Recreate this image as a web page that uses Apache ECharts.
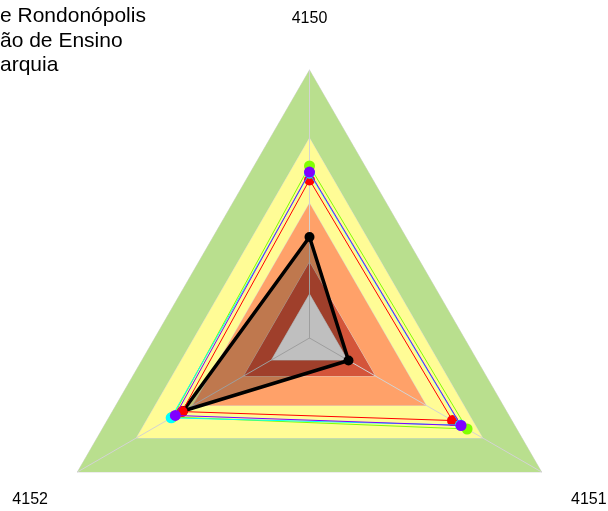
<!DOCTYPE html>
<html>
<head>
<meta charset="utf-8">
<script src="https://cdn.jsdelivr.net/npm/echarts@6/dist/echarts.min.js"></script>
<style>
html,body{margin:0;padding:0;background:#fff;}
#chart{width:608px;height:511px;}
</style>
</head>
<body>
<div id="chart"></div>
<script>
// Indicators in ECharts drawing order (top, bottom-left, bottom-right)
var categories = ['4150', '4152', '4151'];
var axisMax = 100;
var titleLines = ['e Rondonópolis', 'ão de Ensino', 'arquia'];

// Background bands (outer to inner)
var bandLevels = [100, 74.6, 50.3, 28.3, 16.4];
var bandColors = ['#B9DF8E', '#FFFC96', '#FFA169', '#D4553A', '#FFFFFF'];

// Series values, order = categories
var seriesNames = ['Instituição', 'Série 1', 'Série 2', 'Série 3', 'Série 4'];
var blackVals  = [37.7, 54.5, 16.8];
var redVals    = [59.0, 54.9, 61.6];
var greenVals  = [64.2, 59.0, 67.9];
var cyanVals   = [61.5, 59.6, 65.0];
var purpleVals = [61.9, 57.8, 65.3];

var seriesColors = ['#000000', '#FF0000', '#80FF00', '#00FFFF', '#8000FF'];
var seriesVals = [blackVals, redVals, greenVals, cyanVals, purpleVals];

var chart = echarts.init(document.getElementById('chart'), null, {renderer: 'canvas'});

var bandData = bandLevels.map(function (lv, i) {
  return {
    value: categories.map(function () { return lv; }),
    symbol: 'none',
    lineStyle: {color: '#D6D6D6', width: 1, opacity: 0.9},
    areaStyle: {color: bandColors[i], opacity: 1}
  };
});

var series = [{
  type: 'radar',
  z: 1,
  silent: true,
  data: bandData
}];

seriesVals.forEach(function (vals, i) {
  var isBlack = i === 0;
  series.push({
    type: 'radar',
    name: seriesNames[i],
    z: 3 + i,
    symbol: 'circle',
    symbolSize: isBlack ? 10 : 11,
    data: [{
      value: vals,
      itemStyle: {color: seriesColors[i]},
      lineStyle: {color: seriesColors[i], width: isBlack ? 3.5 : 1},
      areaStyle: isBlack ? {color: 'rgba(0,0,0,0.25)', opacity: 1} : undefined
    }]
  });
});

var option = {
  animation: false,
  backgroundColor: '#ffffff',
  title: {
    text: titleLines.join('\n'),
    left: 0,
    top: 4,
    padding: 0,
    textStyle: {
      fontFamily: 'Liberation Sans',
      fontWeight: 'normal',
      fontSize: 21,
      lineHeight: 24.5,
      color: '#000'
    }
  },
  radar: {
    z: 2,
    center: [309.5, 338],
    radius: 268,
    shape: 'polygon',
    startAngle: 90,
    splitNumber: 1,
    nameGap: 34,
    indicator: categories.map(function (c) { return {name: c, min: 0, max: axisMax}; }),
    axisName: {
      color: '#000',
      fontFamily: 'Liberation Sans',
      fontSize: 16,
      formatter: function (value) {
        return value === '4150' ? '{t|' + value + '}' : '{b|' + value + '}';
      },
      rich: {
        t: {fontFamily: 'Liberation Sans', fontSize: 16, color: '#000', padding: [0, 0, 9, 0]},
        b: {fontFamily: 'Liberation Sans', fontSize: 16, color: '#000', padding: [22, 0, 0, 0]}
      }
    },
    axisLine: {show: true, lineStyle: {color: '#D3D3D3', width: 1}},
    splitLine: {show: false},
    splitArea: {show: false}
  },
  series: series
};

chart.setOption(option);
</script>
</body>
</html>
